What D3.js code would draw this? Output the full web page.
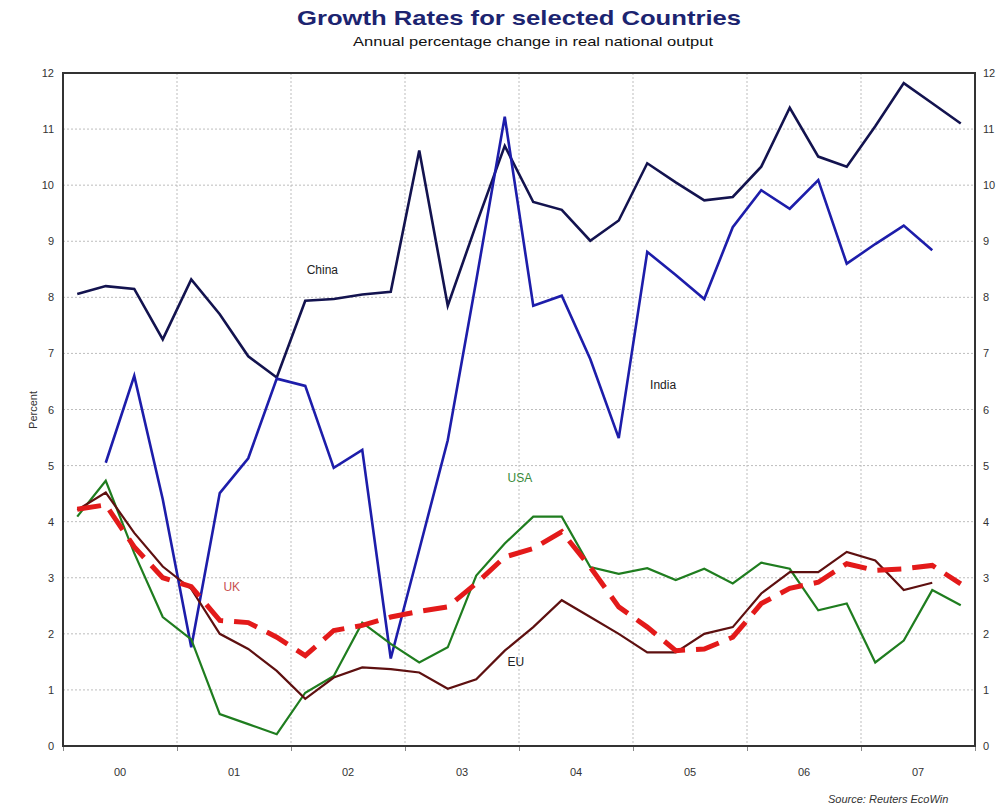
<!DOCTYPE html>
<html>
<head>
<meta charset="utf-8">
<script src="https://cdn.jsdelivr.net/npm/d3@7"></script>
<style>
  body { margin: 0; background: #fff; }
  svg { display: block; font-family: "Liberation Sans", Arial, sans-serif; }
</style>
</head>
<body>
<div id="chart"></div>
<script>
// Quarterly data, 2000 Q1 .. 2007 Q4 (index 0..31)
const yearLabels = ["00", "01", "02", "03", "04", "05", "06", "07"];
const yTicks = [0, 1, 2, 3, 4, 5, 6, 7, 8, 9, 10, 11, 12];

const china = [8.06, 8.2, 8.15, 7.25, 8.32, 7.7, 6.95, 6.57, 7.94, 7.97, 8.05, 8.1,
  10.62, 7.85, 9.3, 10.7, 9.7, 9.56, 9.01, 9.37, 10.39, 10.05, 9.73, 9.79,
  10.33, 11.38, 10.51, 10.33, 11.05, 11.82, 11.46, 11.1];
const india = [null, 5.05, 6.6, 4.4, 1.76, 4.51, 5.13, 6.55, 6.42, 4.96, 5.28, 1.56,
  3.5, 5.45, 8.3, 11.22, 7.85, 8.03, 6.9, 5.49, 8.81, 8.4, 7.97, 9.25,
  9.91, 9.58, 10.09, 8.6, 8.95, 9.28, 8.84, null];
const usa = [4.09, 4.73, 3.44, 2.3, 1.9, 0.57, 0.39, 0.21, 0.95, 1.25, 2.2, 1.82,
  1.49, 1.76, 3.04, 3.61, 4.09, 4.09, 3.19, 3.07, 3.17, 2.96, 3.16, 2.9,
  3.27, 3.16, 2.42, 2.54, 1.49, 1.88, 2.78, 2.51];
const eu = [4.21, 4.52, 3.8, 3.2, 2.8, 2.0, 1.73, 1.34, 0.84, 1.22, 1.4, 1.37,
  1.31, 1.02, 1.19, 1.7, 2.12, 2.6, 2.3, 2.0, 1.67, 1.67, 2.0, 2.12,
  2.72, 3.1, 3.1, 3.46, 3.31, 2.78, 2.91, null];
const uk = [4.22, 4.3, 3.55, 3.0, 2.84, 2.24, 2.2, 1.94, 1.61, 2.06, 2.15, 2.3,
  2.4, 2.48, 2.9, 3.37, 3.52, 3.82, 3.19, 2.48, 2.12, 1.7, 1.73, 1.94,
  2.54, 2.81, 2.92, 3.25, 3.13, 3.16, 3.22, 2.89];

// label anchor: [quarter index, value]
const series = [
  { name: "China", values: china, color: "#13134f", width: 2.6, dash: null, label: [8.05, 8.42], labelColor: "#222" },
  { name: "India", values: india, color: "#1d1daa", width: 2.6, dash: null, label: [20.1, 6.37], labelColor: "#222" },
  { name: "USA", values: usa, color: "#1f7d1f", width: 2.2, dash: null, label: [15.1, 4.7], labelColor: "#3a8a3a" },
  { name: "EU", values: eu, color: "#5e1010", width: 2.2, dash: null, label: [15.1, 1.43], labelColor: "#222" },
  { name: "UK", values: uk, color: "#e31a1a", width: 5, dash: "24,11", label: [5.13, 2.76], labelColor: "#c85050" }
];

const W = 1000, H = 811;
const plotL = 63, plotR = 975, plotT = 73, plotB = 746;

const svg = d3.select("#chart").append("svg")
  .attr("width", W).attr("height", H);

const x = d3.scaleLinear().domain([-0.5, 31.5]).range([plotL, plotR]);
const y = d3.scaleLinear().domain([0, 12]).range([plotB, plotT]);

// Title
svg.append("text")
  .attr("x", 519).attr("y", 25)
  .attr("text-anchor", "middle")
  .attr("textLength", 444).attr("lengthAdjust", "spacingAndGlyphs")
  .style("font-size", "21px").style("font-weight", "bold")
  .style("fill", "#1c2470")
  .text("Growth Rates for selected Countries");

svg.append("text")
  .attr("x", 533).attr("y", 46)
  .attr("text-anchor", "middle")
  .attr("textLength", 360).attr("lengthAdjust", "spacingAndGlyphs")
  .style("font-size", "13px")
  .style("fill", "#111")
  .text("Annual percentage change in real national output");

// Grid
const grid = svg.append("g");
grid.selectAll(".hg").data(yTicks.slice(1, -1)).enter().append("line")
  .attr("x1", plotL).attr("x2", plotR)
  .attr("y1", d => y(d)).attr("y2", d => y(d))
  .attr("stroke", "#bdbdbd").attr("stroke-width", 1)
  .style("stroke-dasharray", "2,2");

const yearBounds = d3.range(1, 8).map(k => -0.5 + 4 * k);
grid.selectAll(".vg").data(yearBounds).enter().append("line")
  .attr("x1", d => x(d)).attr("x2", d => x(d))
  .attr("y1", plotT).attr("y2", plotB)
  .attr("stroke", "#bdbdbd").attr("stroke-width", 1)
  .style("stroke-dasharray", "2,2");

// Axes
const yAxisLeft = d3.axisLeft(y).tickValues(yTicks).tickSize(0).tickPadding(9);
const yAxisRight = d3.axisRight(y).tickValues(yTicks).tickSize(0).tickPadding(8);

const gl = svg.append("g").attr("transform", `translate(${plotL},0)`).call(yAxisLeft);
const gr = svg.append("g").attr("transform", `translate(${plotR},0)`).call(yAxisRight);
[gl, gr].forEach(g => {
  g.select(".domain").remove();
  g.selectAll("text").style("font-size", "11px").style("fill", "#333");
});

const xAxis = d3.axisBottom(x)
  .tickValues(d3.range(0, 9).map(k => -0.5 + 4 * k))
  .tickSize(5).tickFormat("");
const gx = svg.append("g").attr("transform", `translate(0,${plotB})`).call(xAxis);
gx.select(".domain").remove();
gx.selectAll("line").attr("stroke", "#888");

svg.append("g").selectAll("text").data(yearLabels).enter().append("text")
  .attr("x", (d, i) => x(1.5 + 4 * i))
  .attr("y", 776)
  .attr("text-anchor", "middle")
  .style("font-size", "11px").style("fill", "#333")
  .text(d => d);

svg.append("text")
  .attr("transform", "translate(37,410) rotate(-90)")
  .attr("text-anchor", "middle")
  .style("font-size", "11px").style("fill", "#333")
  .text("Percent");

// Lines
const line = d3.line()
  .defined(d => d != null)
  .x((d, i) => x(i))
  .y(d => y(d));

series.forEach(s => {
  svg.append("path")
    .datum(s.values)
    .attr("fill", "none")
    .attr("stroke", s.color)
    .attr("stroke-width", s.width)
    .attr("stroke-linejoin", "miter")
    .style("stroke-dasharray", s.dash)
    .attr("d", line);

  svg.append("text")
    .attr("x", x(s.label[0])).attr("y", y(s.label[1]))
    .style("font-size", "12px").style("fill", s.labelColor)
    .text(s.name);
});

// Frame
svg.append("rect")
  .attr("x", plotL).attr("y", plotT)
  .attr("width", plotR - plotL).attr("height", plotB - plotT)
  .attr("fill", "none").attr("stroke", "#333").attr("stroke-width", 2);

svg.append("text")
  .attr("x", 828).attr("y", 803)
  .style("font-size", "11px").style("font-style", "italic").style("fill", "#333")
  .text("Source: Reuters EcoWin");
</script>
</body>
</html>
